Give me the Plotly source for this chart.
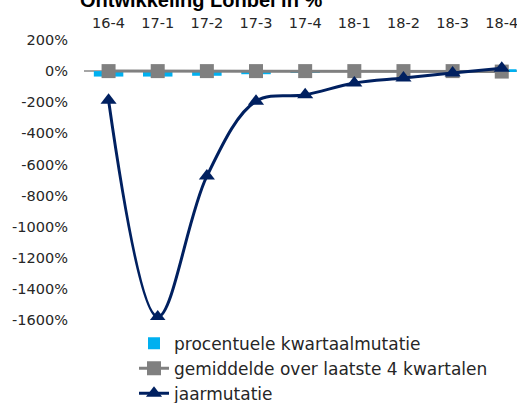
import plotly.graph_objects as go

categories = ["16-4", "17-1", "17-2", "17-3", "17-4", "18-1", "18-2", "18-3", "18-4"]
kwartaalmutatie = [-35, -35, -30, -20, -8, -2, -2, -2, 12]
gemiddelde = [0, 0, 0, 0, 0, 0, 0, 0, -3]
jaarmutatie = [-188, -1580, -675, -193, -152, -77, -45, -12, 19]

y_ticks = list(range(-1600, 201, 200))
y_labels = [f"{v}%" for v in y_ticks]

font = "DejaVu Sans"
txt = "#262626"

fig = go.Figure()
fig.add_trace(go.Bar(
    x=categories, y=kwartaalmutatie, name="procentuele kwartaalmutatie",
    marker=dict(color="#00B0F0", line=dict(width=0)), width=0.6,
))
fig.add_trace(go.Scatter(
    x=categories, y=gemiddelde, name="gemiddelde over laatste 4 kwartalen",
    mode="lines+markers",
    line=dict(color="#808080", width=3),
    marker=dict(symbol="square", size=14, color="#808080"),
))
fig.add_trace(go.Scatter(
    x=categories, y=jaarmutatie, name="jaarmutatie",
    mode="lines+markers",
    line=dict(color="#002060", width=3, shape="spline", smoothing=1),
    marker=dict(symbol="triangle-up", size=14, color="#002060"),
))

fig.add_annotation(
    text="<b>Ontwikkeling Lonbel in %</b>", xref="paper", yref="paper",
    x=-6 / 433, y=1, xanchor="left", yanchor="bottom", yshift=27,
    showarrow=False, font=dict(family="Liberation Sans", size=20, color="#000000"),
)

fig.update_layout(
    width=517, height=403,
    margin=dict(l=84, r=0, t=40, b=83, autoexpand=False),
    paper_bgcolor="white", plot_bgcolor="white",
    font=dict(family=font, size=14.5, color=txt),
    barmode="overlay",
    showlegend=True,
    legend=dict(
        x=(134 - 84) / 433, y=-0.02, xanchor="left", yanchor="top",
        font=dict(family=font, size=17, color=txt),
        bgcolor="rgba(0,0,0,0)", tracegroupgap=0,
        itemwidth=30,
    ),
    xaxis=dict(
        side="top", type="category", range=[-0.5, 8.31],
        showgrid=False, showline=False, ticks="", automargin=False,
        tickfont=dict(family=font, size=14.5, color=txt),
        ticklabelstandoff=8,
    ),
    yaxis=dict(
        range=[-1600, 200], tickvals=y_ticks, ticktext=y_labels,
        showgrid=False, showline=False, ticks="", automargin=False,
        zeroline=True, zerolinecolor="#A6A6A6", zerolinewidth=1.5,
        tickfont=dict(family=font, size=14.5, color=txt),
        ticklabelstandoff=15,
    ),
)

fig.write_html(
    "out.html",
    config={"displayModeBar": False},
    post_script="document.body.style.margin='0';document.body.style.overflow='hidden';",
)
